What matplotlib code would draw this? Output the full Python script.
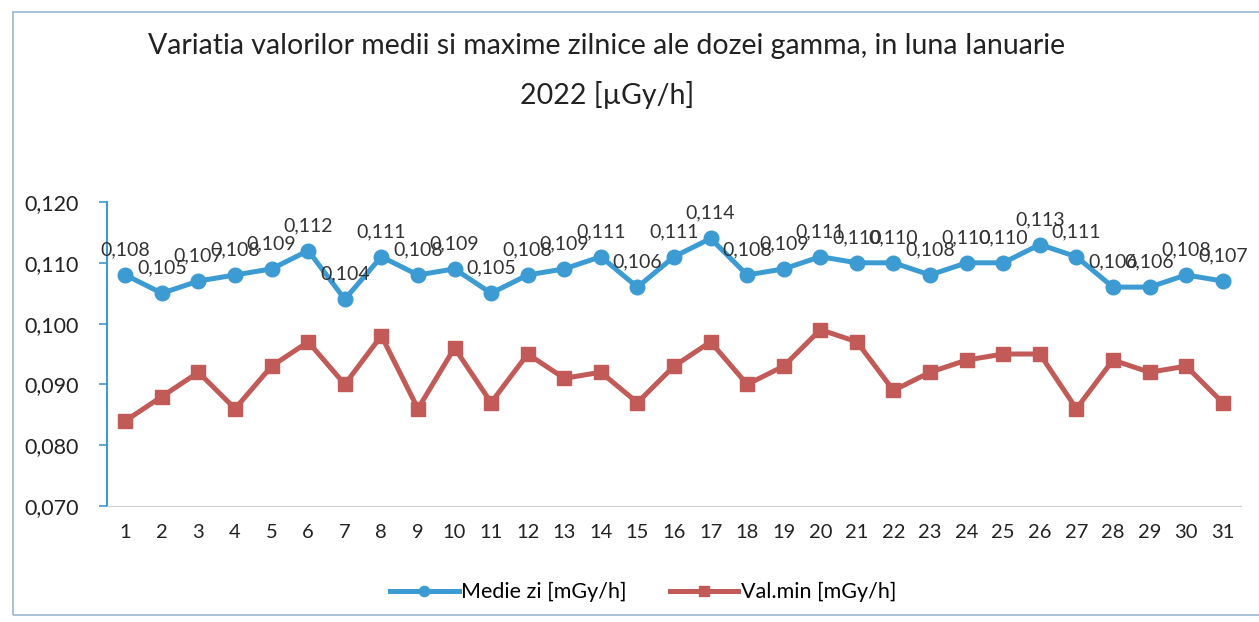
import matplotlib
matplotlib.use("Agg")
import matplotlib.pyplot as plt
from matplotlib.ticker import FuncFormatter, MultipleLocator
from matplotlib.patches import Rectangle

plt.rcParams['font.family'] = ['Lato', 'DejaVu Sans']

days = list(range(1, 32))
medie = [0.108, 0.105, 0.107, 0.108, 0.109, 0.112, 0.104, 0.111, 0.108, 0.109,
         0.105, 0.108, 0.109, 0.111, 0.106, 0.111, 0.114, 0.108, 0.109, 0.111,
         0.110, 0.110, 0.108, 0.110, 0.110, 0.113, 0.111, 0.106, 0.106, 0.108, 0.107]
valmin = [0.084, 0.088, 0.092, 0.086, 0.093, 0.097, 0.090, 0.098, 0.086, 0.096,
          0.087, 0.095, 0.091, 0.092, 0.087, 0.093, 0.097, 0.090, 0.093, 0.099,
          0.097, 0.089, 0.092, 0.094, 0.095, 0.095, 0.086, 0.094, 0.092, 0.093, 0.087]
title = "Variatia valorilor medii si maxime zilnice ale dozei gamma, in luna Ianuarie\n2022 [µGy/h]"
labels = ["Medie zi [mGy/h]", "Val.min [mGy/h]"]

blue = "#3C9BD2"
red = "#C25B58"

fig = plt.figure(figsize=(12.59, 6.22), dpi=100)
fig.patches.append(Rectangle((13/1259, 1-615/622), 1, 603/622, transform=fig.transFigure,
                             fill=False, edgecolor="#9BB7CF", linewidth=1.2))
ax = fig.add_axes([107/1259, 1-506/622, (1241-107)/1259, (506-202)/622])

ax.plot(days, medie, color=blue, lw=3.6, marker='o', ms=10.5, label=labels[0], zorder=3)
ax.plot(days, valmin, color=red, lw=3.6, marker='s', ms=10.5, label=labels[1], zorder=3)

fmt = lambda v: f"{v:.3f}".replace('.', ',')
for d, v in zip(days, medie):
    ax.annotate(fmt(v), (d, v), xytext=(0, 12), textcoords='offset points',
                ha='center', va='bottom', fontsize=14, color='#333333')

ax.set_xlim(0.5, 31.5)
ax.set_ylim(0.070, 0.120)
ax.yaxis.set_major_locator(MultipleLocator(0.01))
ax.yaxis.set_major_formatter(FuncFormatter(lambda v, p: fmt(v)))
ax.set_xticks(days)
ax.tick_params(axis='x', length=0, pad=13, labelsize=14.5, colors='#222222')
ax.tick_params(axis='y', length=6, width=1.2, pad=14, labelsize=15.5, colors='#222222')
ax.tick_params(axis='y', color=blue)
for s in ['top', 'right']:
    ax.spines[s].set_visible(False)
ax.spines['left'].set_color(blue)
ax.spines['left'].set_linewidth(1.5)
ax.spines['bottom'].set_color('#D0D0D0')
ax.patch.set_alpha(0)

fig.text(607/1259, 1-33/622, title, ha='center', va='top', fontsize=20.5, color='#222222',
         linespacing=1.95)

fig.legend(loc='center', bbox_to_anchor=(643/1259, 1-592/622), ncol=2, frameon=False,
           fontsize=15.5, handlelength=3.2, columnspacing=2.0, handletextpad=0.1,
           markerscale=0.7)

fig.savefig("out.png", dpi=100)
